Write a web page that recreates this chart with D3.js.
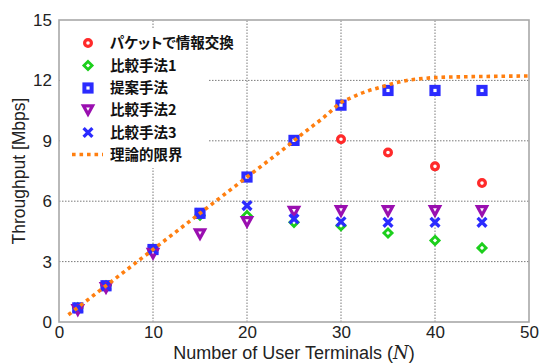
<!DOCTYPE html>
<html>
<head>
<meta charset="utf-8">
<script src="https://cdn.jsdelivr.net/npm/d3@7"></script>
<style>
  html, body { margin: 0; padding: 0; background: #fff; }
  svg { display: block; }
  .tick text { font-family: "Liberation Sans", Arial, sans-serif; }
  .legend-label { font-feature-settings: "palt"; }
</style>
</head>
<body>
<svg id="chart" width="542" height="363"></svg>
<script>
// Number of user terminals for each measured point
const terminals = [2, 5, 10, 15, 20, 25, 30, 35, 40, 45];

// Throughput [Mbps] for each scheme
const packetExchange = [0.7, 1.8, 3.6, 5.4, 7.2, 9.0, 9.08, 8.42, 7.73, 6.9];
const compare1 = [0.7, 1.8, 3.6, 5.3, 5.28, 4.95, 4.78, 4.42, 4.05, 3.68];
const proposed = [0.7, 1.8, 3.6, 5.4, 7.2, 9.02, 10.77, 11.5, 11.5, 11.5];
const compare2 = [0.6, 1.7, 3.4, 4.37, 4.98, 5.48, 5.52, 5.52, 5.52, 5.52];
const compare3 = [0.7, 1.8, 3.6, 5.4, 5.78, 5.12, 4.98, 4.95, 4.95, 4.95];

// Theoretical upper bound
const boundN = [1, 5, 10, 15, 20, 25, 26, 27, 28, 29, 30, 31, 32, 33, 34, 35, 36, 37, 38, 40, 43, 46, 50];
const boundT = [0.36, 1.8, 3.6, 5.4, 7.2, 9.0, 9.38, 9.74, 10.1, 10.5, 10.9, 11.12, 11.33, 11.5, 11.63, 11.78, 11.9, 12.0, 12.06, 12.14, 12.18, 12.2, 12.22];

const xTicks = [0, 10, 20, 30, 40, 50];
const yTicks = [0, 3, 6, 9, 12, 15];

const legendLabels = ["パケットで情報交換", "比較手法1", "提案手法", "比較手法2", "比較手法3", "理論的限界"];

const colors = {
  red: "#ff2a2a",
  green: "#1ccf1c",
  blue: "#2b2bff",
  purple: "#9a0fb0",
  cross: "#2b2bff",
  orange: "#ff7f10"
};

const svg = d3.select("#chart");
const margin = { left: 59, right: 13, top: 20, bottom: 41 };
const W = 542, H = 363;

const x = d3.scaleLinear().domain([0, 50]).range([margin.left, W - margin.right]);
const y = d3.scaleLinear().domain([0, 15]).range([H - margin.bottom, margin.top]);

// grid
const grid = svg.append("g").attr("stroke", "#7a7a7a").attr("stroke-width", 1).attr("stroke-dasharray", "1.5,1.5");
xTicks.slice(1, -1).forEach(t => {
  grid.append("line").attr("x1", x(t)).attr("x2", x(t)).attr("y1", y(0)).attr("y2", y(15));
});
yTicks.slice(1, -1).forEach(t => {
  grid.append("line").attr("x1", x(0)).attr("x2", x(50)).attr("y1", y(t)).attr("y2", y(t));
});

// axes
const xAxis = svg.append("g").attr("transform", `translate(0,${y(0)})`)
  .call(d3.axisBottom(x).tickValues(xTicks).tickSize(0).tickPadding(4).tickFormat(d3.format("d")));
const yAxis = svg.append("g").attr("transform", `translate(${x(0)},0)`)
  .call(d3.axisLeft(y).tickValues(yTicks).tickSize(0).tickPadding(7).tickFormat(d3.format("d")));
[xAxis, yAxis].forEach(a => {
  a.select(".domain").remove();
  a.selectAll("text").attr("font-size", 17).attr("fill", "#222");
});

// legend backdrop hides grid lines behind it
svg.append("rect").attr("x", x(0) + 1).attr("y", 28).attr("width", 148).attr("height", 140).attr("fill", "#fff");

// frame
svg.append("rect")
  .attr("x", x(0)).attr("y", y(15))
  .attr("width", x(50) - x(0)).attr("height", y(0) - y(15))
  .attr("fill", "none").attr("stroke", "#a8a8a8").attr("stroke-width", 1.6);

// marker drawers
function drawCircle(g, cx, cy) {
  g.append("circle").attr("cx", cx).attr("cy", cy).attr("r", 3.4)
    .attr("fill", "#fff").attr("stroke", colors.red).attr("stroke-width", 3.2);
}
function drawDiamond(g, cx, cy) {
  const s = 4.1;
  g.append("path").attr("d", `M${cx},${cy - s}L${cx + s},${cy}L${cx},${cy + s}L${cx - s},${cy}Z`)
    .attr("fill", "#fff").attr("stroke", colors.green).attr("stroke-width", 2.8);
}
function drawSquare(g, cx, cy) {
  const s = 7.2;
  g.append("rect").attr("x", cx - s / 2).attr("y", cy - s / 2).attr("width", s).attr("height", s)
    .attr("fill", "#fff").attr("stroke", colors.blue).attr("stroke-width", 4);
}
function drawTriangle(g, cx, cy) {
  const w = 4.6, h = 4.2;
  g.append("path").attr("d", `M${cx - w},${cy - h}L${cx + w},${cy - h}L${cx},${cy + h}Z`)
    .attr("fill", "#fff").attr("stroke", colors.purple).attr("stroke-width", 3.2).attr("stroke-linejoin", "miter");
}
function drawCross(g, cx, cy) {
  const s = 4.4;
  g.append("path").attr("d", `M${cx - s},${cy - s}L${cx + s},${cy + s}M${cx - s},${cy + s}L${cx + s},${cy - s}`)
    .attr("fill", "none").attr("stroke", colors.cross).attr("stroke-width", 3.3);
}

const series = [
  { values: packetExchange, draw: drawCircle },
  { values: compare1, draw: drawDiamond },
  { values: proposed, draw: drawSquare },
  { values: compare2, draw: drawTriangle },
  { values: compare3, draw: drawCross }
];

const marks = svg.append("g");
series.forEach(s => {
  const g = marks.append("g");
  terminals.forEach((n, i) => s.draw(g, x(n), y(s.values[i])));
});

// theoretical bound line
const boundData = boundN.map((n, i) => [n, boundT[i]]);
svg.append("path")
  .datum(boundData)
  .attr("d", d3.line().x(d => x(d[0])).y(d => y(d[1])).curve(d3.curveMonotoneX))
  .attr("fill", "none").attr("stroke", colors.orange)
  .attr("stroke-width", 3.6).attr("stroke-dasharray", "3.6,3.9");

// legend
const legend = svg.append("g");
const rowY = [43, 65.5, 88, 110, 132.5, 154.5];
const markX = 88, textX = 110;
[drawCircle, drawDiamond, drawSquare, drawTriangle, drawCross].forEach((fn, i) => fn(legend, markX, rowY[i]));
legend.append("line").attr("x1", 72).attr("x2", 103).attr("y1", rowY[5]).attr("y2", rowY[5])
  .attr("stroke", colors.orange).attr("stroke-width", 3.6).attr("stroke-dasharray", "3.6,3.9");
legendLabels.forEach((t, i) => {
  legend.append("text").attr("class", "legend-label")
    .attr("x", textX).attr("y", rowY[i]).attr("dy", "0.36em")
    .attr("font-family", "'Noto Sans CJK JP', sans-serif").attr("font-weight", "bold")
    .attr("font-size", 14.5).attr("fill", "#111").text(t);
});

// axis titles
const xTitle = svg.append("text")
  .attr("x", (x(0) + x(50)) / 2).attr("y", 359)
  .attr("text-anchor", "middle")
  .attr("font-family", "'Liberation Sans', Arial, sans-serif")
  .attr("font-size", 18).attr("fill", "#222");
xTitle.append("tspan").text("Number of User Terminals (");
xTitle.append("tspan").attr("font-family", "'DejaVu Serif', 'Liberation Serif', serif").attr("font-style", "italic").text("N");
xTitle.append("tspan").text(")");

svg.append("text")
  .attr("transform", `translate(25,${(y(0) + y(15)) / 2}) rotate(-90)`)
  .attr("text-anchor", "middle")
  .attr("font-family", "'Liberation Sans', Arial, sans-serif")
  .attr("font-size", 17.5).attr("fill", "#222")
  .text("Throughput [Mbps]");
</script>
</body>
</html>
